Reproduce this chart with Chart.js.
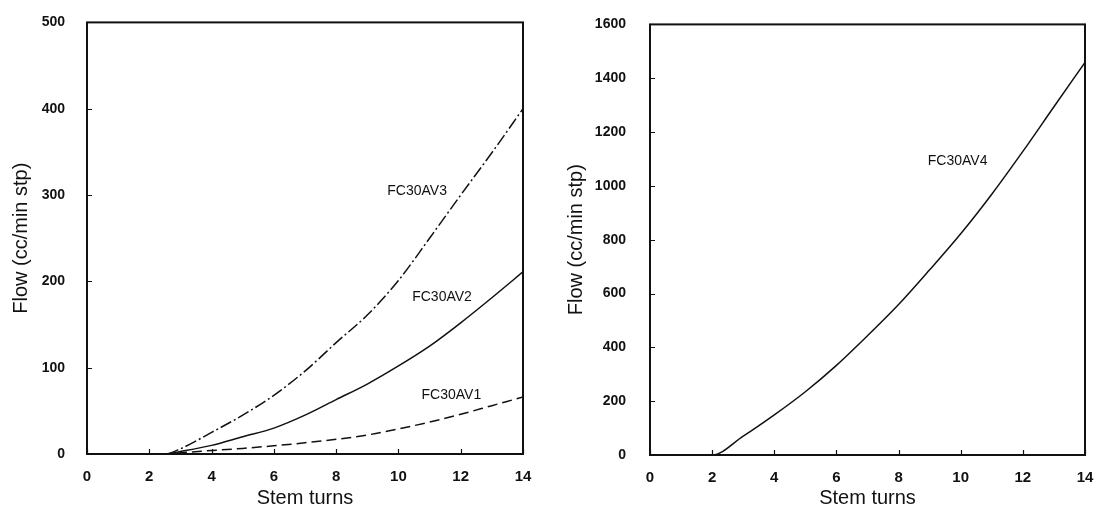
<!DOCTYPE html>
<html>
<head>
<meta charset="utf-8">
<script src="https://cdn.jsdelivr.net/npm/chart.js@4/dist/chart.umd.min.js"></script>
<style>
  html, body { margin: 0; padding: 0; background: #fff; }
  body { width: 1097px; height: 511px; position: relative; overflow: hidden; }
  .box { position: absolute; top: 0; height: 511px; }
  #boxL { left: 0; width: 548px; }
  #boxR { left: 560px; width: 537px; }
</style>
</head>
<body>
<div class="box" id="boxL"><canvas id="chartL"></canvas></div>
<div class="box" id="boxR"><canvas id="chartR"></canvas></div>
<script>
/* ---- data ---- */
const turnsL = [0, 1, 2, 2.5, 3, 4, 5, 6, 7, 8, 9, 10, 11, 12, 13, 14];
const flowAV3 = [0, 0, 0, 0, 6, 25, 45, 68, 96, 129, 161, 201, 250, 300, 349, 400];
const flowAV2 = [0, 0, 0, 0, 3, 10, 20, 30, 45, 63, 81, 102, 125, 152, 181, 211];
const flowAV1 = [0, 0, 0, 0, 1.5, 4, 6.5, 9.5, 13, 17, 22, 29, 37, 46, 56, 66];

const turnsR = [0, 1, 2, 3, 4, 5, 6, 7, 8, 9, 10, 11, 12, 13, 14];
const flowAV4 = [0, 0, 0, 70, 149, 235, 333, 443, 559, 688, 822, 969, 1128, 1294, 1459];

const xTicks = [0, 2, 4, 6, 8, 10, 12, 14];
const yTicksL = [0, 100, 200, 300, 400, 500];
const yTicksR = [0, 200, 400, 600, 800, 1000, 1200, 1400, 1600];

// curve labels (text, turns, flow)
const notesL = [['FC30AV3', 10.6, 305], ['FC30AV2', 11.4, 182], ['FC30AV1', 11.7, 68]];
const notesR = [['FC30AV4', 9.9, 1092]];

const INK = '#111';
const FAM = '"Liberation Sans", Arial, sans-serif';
const pts = (xs, ys) => xs.map((x, i) => ({ x, y: ys[i] }));

// frame, inward ticks, x tick labels and curve labels
const decor = {
  id: 'decor',
  afterDatasetsDraw(chart, args, opts) {
    const { ctx, chartArea: a, scales: { x, y } } = chart;
    ctx.save();
    ctx.strokeStyle = INK;
    ctx.lineWidth = 2;
    ctx.strokeRect(a.left, a.top, a.right - a.left, a.bottom - a.top);
    ctx.lineWidth = 1.2;
    ctx.beginPath();
    for (const v of opts.yt) {
      const py = Math.round(y.getPixelForValue(v)) + 0.5;
      ctx.moveTo(a.left, py); ctx.lineTo(a.left + 5, py);
    }
    for (const v of opts.xt) {
      const px = Math.round(x.getPixelForValue(v)) + 0.5;
      ctx.moveTo(px, a.bottom); ctx.lineTo(px, a.bottom - 5);
    }
    ctx.stroke();
    ctx.fillStyle = INK;
    ctx.textAlign = 'center';
    ctx.textBaseline = 'middle';
    ctx.font = 'bold 15px ' + FAM;
    for (const v of opts.xt) {
      ctx.fillText(String(v), x.getPixelForValue(v), a.bottom + 23);
    }
    ctx.font = '14px ' + FAM;
    for (const [t, nx, ny] of opts.notes) {
      ctx.fillText(t, x.getPixelForValue(nx), y.getPixelForValue(ny));
    }
    ctx.restore();
  }
};

function makeChart(id, datasets, yMax, yTicks, notes, pad, yw, xh, ytPad, tickPad) {
  return new Chart(document.getElementById(id), {
    type: 'line',
    data: { datasets },
    plugins: [decor],
    options: {
      responsive: true,
      maintainAspectRatio: false,
      animation: false,
      layout: { padding: pad },
      plugins: {
        legend: { display: false },
        tooltip: { enabled: false },
        decor: { xt: xTicks, yt: yTicks, notes }
      },
      elements: { point: { radius: 0 } },
      scales: {
        x: {
          type: 'linear', min: 0, max: 14,
          grid: { display: false }, border: { display: false },
          afterBuildTicks: s => { s.ticks = xTicks.map(v => ({ value: v })); },
          afterFit: s => { s.height = xh; },
          ticks: { display: false },
          title: { display: true, text: 'Stem turns', color: INK, padding: { top: 0, bottom: 1 },
                   font: { family: FAM, size: 20 } }
        },
        y: {
          min: 0, max: yMax,
          grid: { display: false }, border: { display: false },
          afterBuildTicks: s => { s.ticks = yTicks.map(v => ({ value: v })); },
          afterFit: s => { s.width = yw; },
          ticks: { color: INK, padding: tickPad, callback: v => String(v),
                   font: { family: FAM, size: 14, weight: 'bold' } },
          title: { display: true, text: 'Flow (cc/min stp)', color: INK, padding: { top: ytPad, bottom: 0 },
                   font: { family: FAM, size: 20 } }
        }
      }
    }
  });
}

const lineStyle = (dash) => ({
  borderColor: INK, borderWidth: 1.5, borderDash: dash,
  cubicInterpolationMode: 'monotone', fill: false
});

makeChart('chartL', [
  { label: 'FC30AV3', data: pts(turnsL, flowAV3), ...lineStyle([12, 3, 2, 3]) },
  { label: 'FC30AV2', data: pts(turnsL, flowAV2), ...lineStyle([]) },
  { label: 'FC30AV1', data: pts(turnsL, flowAV1), ...lineStyle([10, 5]) }
], 500, yTicksL, notesL, { left: 0, right: 25, top: 16, bottom: 0 }, 87, 57, 9, 14);

makeChart('chartR', [
  { label: 'FC30AV4', data: pts(turnsR, flowAV4), ...lineStyle([]) }
], 1600, yTicksR, notesR, { left: 0, right: 12, top: 18, bottom: 0 }, 90, 56, 4, 16);
</script>
</body>
</html>
